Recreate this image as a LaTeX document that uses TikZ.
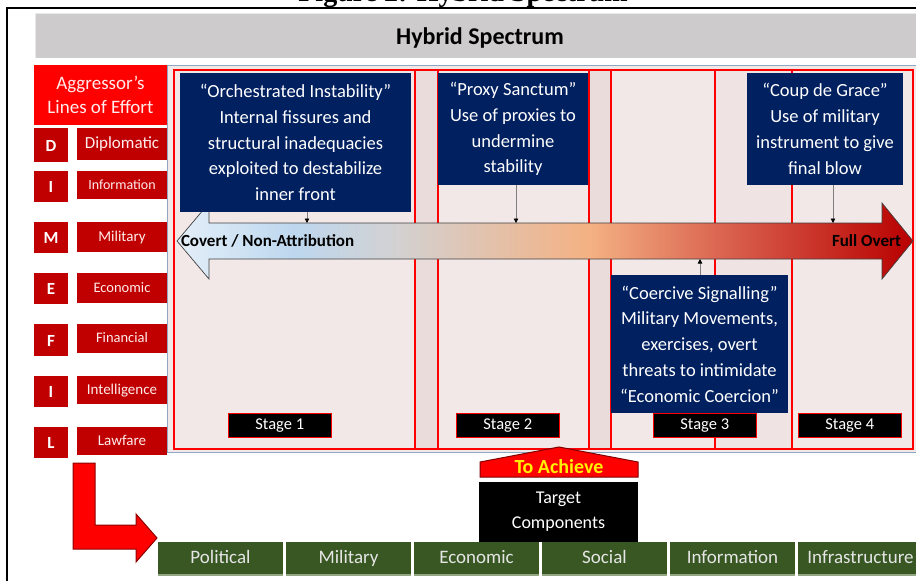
\documentclass[tikz,border=0pt]{standalone}
\usepackage{fontspec}
\setmainfont{Carlito}
\newfontfamily\captionserif{Liberation Serif}
\usetikzlibrary{arrows.meta}

\definecolor{barGray}{HTML}{CDCBCC}
\definecolor{hdrRed}{HTML}{FF0000}
\definecolor{locRed}{HTML}{C00000}
\definecolor{locText}{HTML}{FFECEC}
\definecolor{panelFill}{HTML}{F2E8E8}
\definecolor{gapFill}{HTML}{EBDCDC}
\definecolor{midFill}{HTML}{EFE3E3}
\definecolor{panelEdge}{HTML}{8EA7C4}
\definecolor{navyBox}{HTML}{002060}
\definecolor{leafGreen}{HTML}{385723}
\definecolor{leafEdge}{HTML}{94A784}
\definecolor{pinGray}{HTML}{7F7F7F}
\definecolor{specA}{HTML}{E4EFF9}
\definecolor{specB}{HTML}{BDD7EE}
\definecolor{specC}{HTML}{D3D1D1}
\definecolor{specD}{HTML}{F4B183}
\definecolor{specE}{HTML}{DA6450}
\definecolor{specF}{HTML}{B80000}

% left-to-right colour ramp of the spectrum arrow (path box = 25bp..75bp)
\pgfdeclarehorizontalshading{spectrum}{100bp}{
  color(0bp)=(specA); color(25bp)=(specA); color(33bp)=(specB);
  color(40bp)=(specC); color(53bp)=(specD); color(62bp)=(specE);
  color(75bp)=(specF); color(100bp)=(specF)}

\begin{document}
\begin{tikzpicture}[x=1pt,y=-1pt,
  every node/.style={inner sep=0pt, outer sep=0pt},
  letterbox/.style={fill=locRed, text=white, anchor=north west, minimum width=34pt,
    text height=12pt, text depth=0pt, font=\bfseries\fontsize{17}{20}\selectfont},
  effortbox/.style={fill=locRed, text=locText, anchor=north west, minimum width=90pt,
    text height=11pt, text depth=3pt, font=\fontsize{15}{18}\selectfont},
  callout/.style={fill=navyBox, text=white, align=center, anchor=north west,
    font=\fontsize{18.5}{25.8}\selectfont},
  stagetag/.style={fill=black, draw=hdrRed, line width=0.6pt, text=white,
    minimum width=103.5pt, minimum height=24pt, anchor=north west,
    text height=11.5pt, text depth=3.5pt, font=\fontsize{16.5}{20}\selectfont},
  component/.style={fill=leafGreen, text=white!90!black, minimum width=125pt,
    minimum height=33pt, anchor=north west, text height=13pt, text depth=4pt,
    font=\fontsize{19}{22}\selectfont},
  pin/.style={draw=pinGray, line width=0.8pt,
    -{Triangle[length=4.5pt,width=4.5pt,color=black]}},
  gridline/.style={draw=hdrRed, line width=1.6pt}
]
\clip (0,0) rectangle (916,581);
\fill[white] (0,0) rectangle (916,581);

% caption above the frame
\node[anchor=base, font=\captionserif\bfseries\fontsize{28}{30}\selectfont] (figcap)
  at (463,1) {Figure 2: Hybrid Spectrum};

% frame
\draw[line width=2pt] (7,590) -- (7,7.5) -- (925,7.5);

% title bar
\node[fill=barGray, anchor=north west, minimum width=890pt, minimum height=45pt,
  text height=18pt, text depth=0pt,
  font=\bfseries\fontsize{24}{28}\selectfont] (title) at (35,13) {Hybrid Spectrum};
\draw[white!60!barGray, line width=1pt] (title.south west) -- (title.north west) -- (title.north east);

% stage panel
\draw[draw=panelEdge, fill=panelFill, line width=1pt] (167,65) rectangle (925,452);
\fill[gapFill] (415,70) rectangle (438,449);
\fill[gapFill] (589,70) rectangle (611,449);
\fill[midFill] (715,70) rectangle (792,449);
\draw[gridline] (174,70) rectangle (913,449);
\foreach \gx in {415,438,589,611,715,792} \draw[gridline] (\gx,70) -- (\gx,449);

% spectrum arrow
\shadedraw[shading=spectrum, draw=black!75, line width=0.7pt]
  (177,241) -- (209,203) -- (209,223) -- (882,223) -- (882,203) -- (913,241)
  -- (882,279) -- (882,259) -- (209,259) -- (209,279) -- cycle;
\node[anchor=west, font=\bfseries\fontsize{17}{20}\selectfont] (covert) at (181,241)
  {Covert / Non-Attribution};
\node[anchor=east, font=\bfseries\fontsize{17}{20}\selectfont] (overt) at (901,241)
  {Full Overt};

% stage descriptions
\node[callout, minimum width=231pt, minimum height=139pt] (orch) at (180,73)
  {“Orchestrated Instability”\\Internal fissures and\\structural inadequacies\\exploited to destabilize\\inner front};
\node[callout, minimum width=150pt, minimum height=112pt] (proxy) at (438,73)
  {“Proxy Sanctum”\\Use of proxies to\\undermine\\stability};
\node[callout, minimum width=156pt, minimum height=112pt] (coup) at (747,73)
  {“Coup de Grace”\\Use of military\\instrument to give\\final blow};
\node[callout, minimum width=177pt, minimum height=138pt] (coerce) at (611,275)
  {“Coercive Signalling”\\Military Movements,\\exercises, overt\\threats to intimidate\\“Economic Coercion”};

% pointers onto the spectrum
\coordinate (hitA) at (307,223);
\coordinate (hitB) at (516,223);
\coordinate (hitC) at (700,259);
\coordinate (hitD) at (833,223);
\draw[pin] (hitA |- orch.south) -- (hitA);
\draw[pin] (hitB |- proxy.south) -- (hitB);
\draw[pin] (hitD |- coup.south) -- (hitD);
\draw[pin] (hitC |- coerce.north) -- (hitC);

% stage tags
\node[stagetag] (st1) at (228,413) {Stage 1};
\node[stagetag] (st2) at (456,413) {Stage 2};
\node[stagetag] (st3) at (653,413) {Stage 3};
\node[stagetag] (st4) at (798,413) {Stage 4};

% lines of effort
\node[fill=hdrRed, text=locText, anchor=north west, minimum width=133pt, minimum height=60pt,
  align=center, font=\fontsize{19}{24}\selectfont] (loe) at (34,65) {Aggressor’s\\Lines of Effort};
\node[letterbox, minimum height=34pt] (lD) at (34,128) {D};
\node[effortbox, minimum height=32pt, text height=12pt, font=\fontsize{17}{20}\selectfont] (eD) at (77,128) {Diplomatic};
\node[letterbox, minimum height=31pt] (lI) at (34,171) {I};
\node[effortbox, minimum height=28pt, font=\fontsize{14}{17}\selectfont] (eI) at (77,171) {Information};
\node[letterbox, minimum height=31pt] (lM) at (34,222) {M};
\node[effortbox, minimum height=30pt] (eM) at (77,222) {Military};
\node[letterbox, minimum height=31pt] (lE) at (34,273) {E};
\node[effortbox, minimum height=30pt, font=\fontsize{14.5}{17}\selectfont] (eE) at (77,273) {Economic};
\node[letterbox, minimum height=32pt] (lF) at (34,324) {F};
\node[effortbox, minimum height=29pt, font=\fontsize{14.5}{17}\selectfont] (eF) at (77,324) {Financial};
\node[letterbox, minimum height=31pt] (lI2) at (34,376) {I};
\node[effortbox, minimum height=28pt] (eI2) at (77,376) {Intelligence};
\node[letterbox, minimum height=31pt] (lL) at (34,427) {L};
\node[effortbox, minimum height=28pt] (eL) at (77,427) {Lawfare};

% bent arrow to the target components
\filldraw[fill=hdrRed, draw=black!45!hdrRed, line width=1pt]
  (73,463) -- (95,463) -- (95,525) -- (136,525) -- (136,514) -- (157,538)
  -- (136,562) -- (136,549) -- (73,549) -- cycle;

% "To Achieve" banner and target components
\filldraw[fill=hdrRed, draw=black!50!hdrRed, line width=1pt]
  (480,477) -- (480,462) -- (559,447) -- (638,462) -- (638,477) -- cycle;
\node[text=yellow, text height=13pt, text depth=1pt,
  font=\bfseries\fontsize{20}{22}\selectfont] (achieve) at (559,467) {To Achieve};
\node[fill=black, text=white, anchor=north west, minimum width=159pt, minimum height=60pt,
  align=center, font=\fontsize{18}{25}\selectfont] (tc) at (479,482) {Target\\Components};

\foreach \cx/\cn/\ct in {158/cPol/Political, 286/cMil/Military, 414/cEco/Economic,
    542/cSoc/Social, 670/cInf/Information, 798/cIns/Infrastructure} {
  \node[component] (\cn) at (\cx,542) {\ct};
  \draw[leafEdge, line width=1.5pt] (\cn.south west) -- (\cn.south east);
}
\end{tikzpicture}
\end{document}
